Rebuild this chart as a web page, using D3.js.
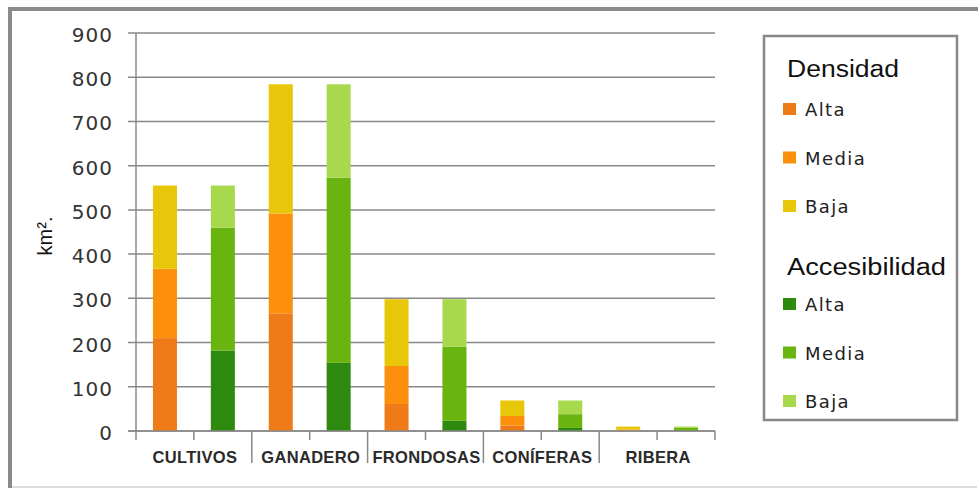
<!DOCTYPE html>
<html>
<head>
<meta charset="utf-8">
<script src="https://cdn.jsdelivr.net/npm/d3@7/dist/d3.min.js"></script>
<style>
  html, body { margin: 0; padding: 0; background: #fff; }
  svg { display: block; }
</style>
</head>
<body>
<svg id="chart" width="978" height="488"></svg>
<script>
// Superficie (km²) por tipo de cubierta, desglosada por densidad y por accesibilidad
const categories = ['CULTIVOS', 'GANADERO', 'FRONDOSAS', 'CONÍFERAS', 'RIBERA'];
const yTicks = [0, 100, 200, 300, 400, 500, 600, 700, 800, 900];

const densidadAlta  = [210, 266, 61, 12, 1];
const densidadMedia = [157, 226, 86, 22, 2];
const densidadBaja  = [188, 292, 151, 35, 7];

const accesAlta  = [182, 154, 23, 7, 1];
const accesMedia = [278, 419, 168, 31, 6];
const accesBaja  = [95, 211, 107, 31, 3];

const levels = ['Alta', 'Media', 'Baja'];
const groups = ['Densidad', 'Accesibilidad'];
const palette = {
  Densidad:      ['#EE7A18', '#FC8F0C', '#E8C60A'],
  Accesibilidad: ['#2E8A0E', '#6AB410', '#A8D84C']
};

const seriesData = {
  Densidad: categories.map((c, i) => ({ cat: c, Alta: densidadAlta[i], Media: densidadMedia[i], Baja: densidadBaja[i] })),
  Accesibilidad: categories.map((c, i) => ({ cat: c, Alta: accesAlta[i], Media: accesMedia[i], Baja: accesBaja[i] }))
};

const svg = d3.select('#chart');

// outer frame
svg.append('line').attr('x1', 10).attr('y1', 9).attr('x2', 978).attr('y2', 9)
  .attr('stroke', '#8a8a8a').attr('stroke-width', 4);
svg.append('line').attr('x1', 10).attr('y1', 7).attr('x2', 10).attr('y2', 488)
  .attr('stroke', '#8a8a8a').attr('stroke-width', 4);
svg.append('line').attr('x1', 12).attr('y1', 487).attr('x2', 977).attr('y2', 487)
  .attr('stroke', '#dcdcdc').attr('stroke-width', 2);

const plot = { left: 136, right: 715, top: 33, bottom: 431 };

const y = d3.scaleLinear().domain([0, 900]).range([plot.bottom, plot.top]);
const x0 = d3.scaleBand().domain(categories).range([plot.left, plot.right]).padding(0);
const x1 = d3.scaleBand().domain(groups).range([0, x0.bandwidth()])
  .paddingInner(0.585).paddingOuter(0.2925);

// gridlines
svg.append('g')
  .selectAll('line').data(yTicks).join('line')
  .attr('x1', plot.left - 8).attr('x2', plot.right)
  .attr('y1', d => y(d)).attr('y2', d => y(d))
  .attr('stroke', '#888').attr('stroke-width', 1.5);

// y tick labels
svg.append('g')
  .selectAll('text').data(yTicks).join('text')
  .attr('x', 113).attr('y', d => y(d) + 2)
  .attr('text-anchor', 'end').attr('dominant-baseline', 'central')
  .attr('font-family', 'DejaVu Sans, Verdana, sans-serif')
  .attr('font-size', 20).attr('letter-spacing', 1)
  .attr('fill', '#333')
  .text(d => d);

// y axis title
svg.append('text')
  .attr('transform', 'translate(52,236) rotate(-90)')
  .attr('text-anchor', 'middle')
  .attr('font-family', 'Liberation Sans, Arial, sans-serif')
  .attr('font-size', 20).attr('fill', '#111')
  .text('km².');

// stacked bars
groups.forEach((g) => {
  const stacked = d3.stack().keys(levels)(seriesData[g]);
  const gg = svg.append('g');
  stacked.forEach((layer, li) => {
    gg.selectAll(null).data(layer).join('rect')
      .attr('x', d => x0(d.data.cat) + x1(g))
      .attr('width', x1.bandwidth())
      .attr('y', d => y(d[1]))
      .attr('height', d => y(d[0]) - y(d[1]))
      .attr('fill', palette[g][li]);
  });
});

// axes lines
svg.append('line').attr('x1', plot.left).attr('x2', plot.left)
  .attr('y1', plot.top).attr('y2', plot.bottom + 9)
  .attr('stroke', '#888').attr('stroke-width', 1.5);
svg.append('line').attr('x1', plot.left - 8).attr('x2', plot.right)
  .attr('y1', plot.bottom).attr('y2', plot.bottom)
  .attr('stroke', '#888').attr('stroke-width', 1.5);

// category ticks: short between paired bars and at both ends, long between categories
const tickPos = [];
categories.forEach((c, i) => {
  const s = x0(c);
  if (i > 0) tickPos.push({ x: s, long: true });
  tickPos.push({ x: s + x0.bandwidth() / 2, long: false });
});
tickPos.push({ x: plot.right, long: false });
svg.append('g').selectAll('line').data(tickPos).join('line')
  .attr('x1', d => d.x).attr('x2', d => d.x)
  .attr('y1', plot.bottom).attr('y2', d => plot.bottom + (d.long ? 32 : 9))
  .attr('stroke', '#888').attr('stroke-width', 1.5);

// category labels
svg.append('g').selectAll('text').data(categories).join('text')
  .attr('x', d => x0(d) + x0.bandwidth() / 2 + 1)
  .attr('y', 463)
  .attr('text-anchor', 'middle')
  .attr('font-family', 'Liberation Sans, Arial, sans-serif')
  .attr('font-weight', 'bold')
  .attr('font-size', 16.5).attr('letter-spacing', 0.3)
  .attr('fill', '#2a2a2a')
  .text(d => d);

// legend
const lg = svg.append('g');
lg.append('rect').attr('x', 764).attr('y', 36).attr('width', 193).attr('height', 384)
  .attr('fill', '#fff').attr('stroke', '#888').attr('stroke-width', 2.5);

const legendTitles = [
  { text: 'Densidad', y: 77, w: 112 },
  { text: 'Accesibilidad', y: 275, w: 159 }
];
lg.selectAll('text.title').data(legendTitles).join('text')
  .attr('class', 'title')
  .attr('x', 787).attr('y', d => d.y)
  .attr('font-family', 'Liberation Sans, Arial, sans-serif')
  .attr('font-size', 23.5).attr('fill', '#111')
  .attr('textLength', d => d.w).attr('lengthAdjust', 'spacingAndGlyphs')
  .text(d => d.text);

const legendItems = [];
groups.forEach((g, gi) => {
  levels.forEach((l, li) => {
    legendItems.push({ label: l, color: palette[g][li], cy: (gi === 0 ? 109 : 304) + li * 48.5 });
  });
});
const li = lg.selectAll('g.item').data(legendItems).join('g').attr('class', 'item');
li.append('rect')
  .attr('x', 783).attr('y', d => d.cy - 6).attr('width', 13).attr('height', 12)
  .attr('fill', d => d.color);
li.append('text')
  .attr('x', 805).attr('y', d => d.cy + 7)
  .attr('font-family', 'DejaVu Sans, Verdana, sans-serif')
  .attr('font-size', 18).attr('letter-spacing', 1.4)
  .attr('fill', '#222')
  .text(d => d.label);
</script>
</body>
</html>
